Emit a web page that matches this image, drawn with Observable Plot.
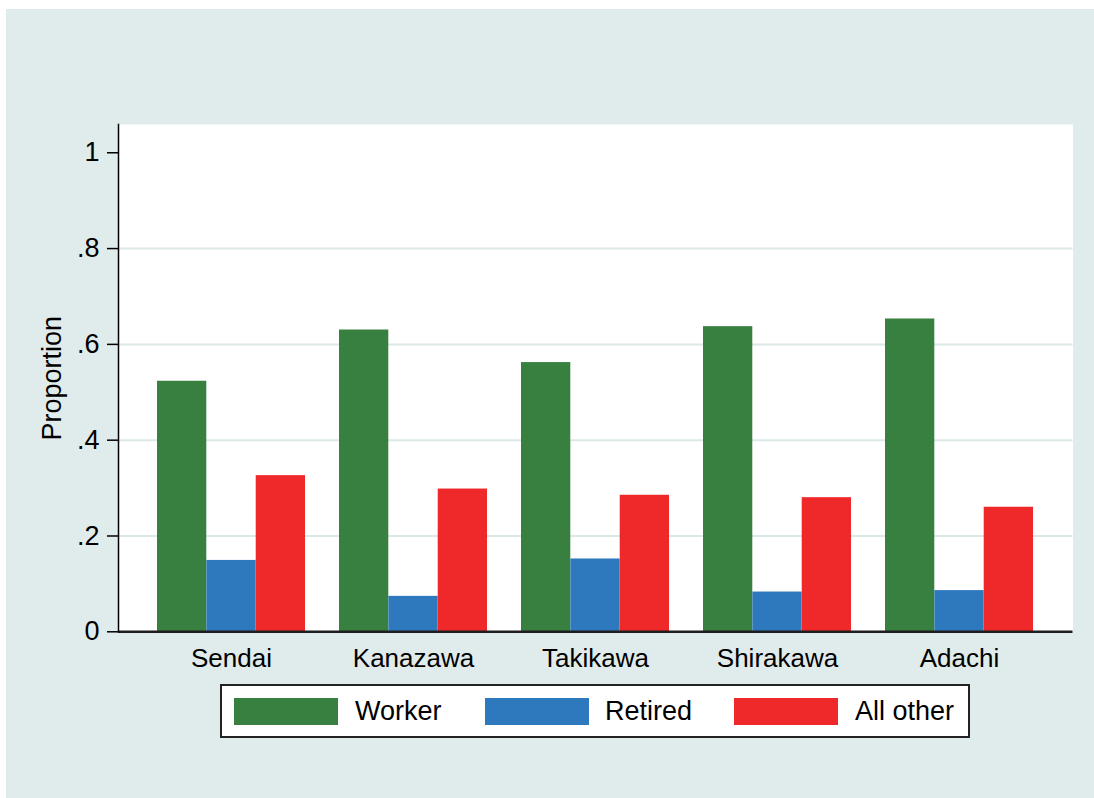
<!DOCTYPE html>
<html>
<head>
<meta charset="utf-8">
<script src="https://cdn.jsdelivr.net/npm/d3@7"></script>
<script src="https://cdn.jsdelivr.net/npm/@observablehq/plot@0.6"></script>
<style>
  html, body { margin: 0; padding: 0; background: #ffffff; }
  #wrap { position: absolute; left: 6px; top: 9px; width: 1088px; height: 789px; background: #e0ebeb; }
  #chart { position: absolute; left: 0; top: 0; }
  #legend { position: absolute; left: 214px; top: 675px; width: 746px; height: 50px;
            background: #fff; border: 2px solid #222; box-sizing: content-box;
            font-family: "Liberation Sans", Arial, sans-serif; font-size: 27px; color: #000; }
  .sw { position: absolute; top: 12px; width: 104px; height: 27px; }
  .lt { position: absolute; top: 10px; line-height: 31px; }
</style>
</head>
<body>
<div id="wrap"><div id="chart"></div><div id="legend"></div></div>
<script>
const cities = ["Sendai", "Kanazawa", "Takikawa", "Shirakawa", "Adachi"];
const series = ["Worker", "Retired", "All other"];
const worker = [0.523, 0.630, 0.562, 0.637, 0.653];
const retired = [0.149, 0.074, 0.152, 0.083, 0.086];
const allOther = [0.326, 0.298, 0.285, 0.280, 0.260];
const colors = ["#37803f", "#2e78bd", "#ef2929"];
const yTicks = [0, 0.2, 0.4, 0.6, 0.8, 1];
const yGrid = [0.2, 0.4, 0.6, 0.8];
const yLabel = "Proportion";

const valuesBySeries = [worker, retired, allOther];
const rows = series.map((s, j) => cities.map((c, i) => ({city: c, series: s, value: valuesBySeries[j][i]})));

const W = 1088, H = 789;
const mL = 112, mR = 21.5, mT = 115, mB = 166.7;
const padIn = 0.187, padOut = 0.214;
const plotW = W - mL - mR;
const step = plotW / (cities.length - padIn + 2 * padOut);
const bw = step * (1 - padIn);
const barW = bw / series.length;

const fmt = d => d === 0 ? "0" : d === 1 ? "1" : String(d).replace(/^0/, "");

const chart = Plot.plot({
  width: W, height: H,
  marginLeft: mL, marginRight: mR, marginTop: mT, marginBottom: mB,
  style: {fontFamily: "'Liberation Sans', Arial, sans-serif", color: "#000", background: "transparent", overflow: "visible"},
  x: {type: "band", domain: cities, paddingInner: padIn, paddingOuter: padOut, align: 0.5},
  y: {domain: [0, 1.059]},
  marks: [
    Plot.frame({fill: "#ffffff", stroke: null}),
    Plot.ruleY(yGrid, {stroke: "#dbe8e8", strokeWidth: 2}),
    ...rows.map((data, j) => Plot.barY(data, {
      x: "city", y: "value", fill: colors[j],
      insetLeft: j * barW, insetRight: (series.length - 1 - j) * barW
    })),
    Plot.ruleY([0], {stroke: "#1e1e1e", strokeWidth: 2.5}),
    Plot.frame({anchor: "left", stroke: "#000", strokeWidth: 1.5}),
    Plot.axisY({ticks: yTicks, tickFormat: fmt, tickSize: 11, tickPadding: 8, fontSize: 27, label: null, strokeWidth: 1.5}),
    Plot.axisX({tickSize: 0, tickPadding: 17, fontSize: 26, label: null}),
    Plot.text([yLabel], {frameAnchor: "left", dx: -66, rotate: -90, textAnchor: "middle", fontSize: 27})
  ]
});
document.getElementById("chart").appendChild(chart);

const legend = document.getElementById("legend");
const swX = [12, 263, 512];
const txX = [133, 383, 633];
series.forEach((s, j) => {
  const sw = document.createElement("div");
  sw.className = "sw"; sw.style.left = swX[j] + "px"; sw.style.background = colors[j];
  legend.appendChild(sw);
  const t = document.createElement("div");
  t.className = "lt"; t.style.left = txX[j] + "px"; t.textContent = s;
  legend.appendChild(t);
});
</script>
</body>
</html>
